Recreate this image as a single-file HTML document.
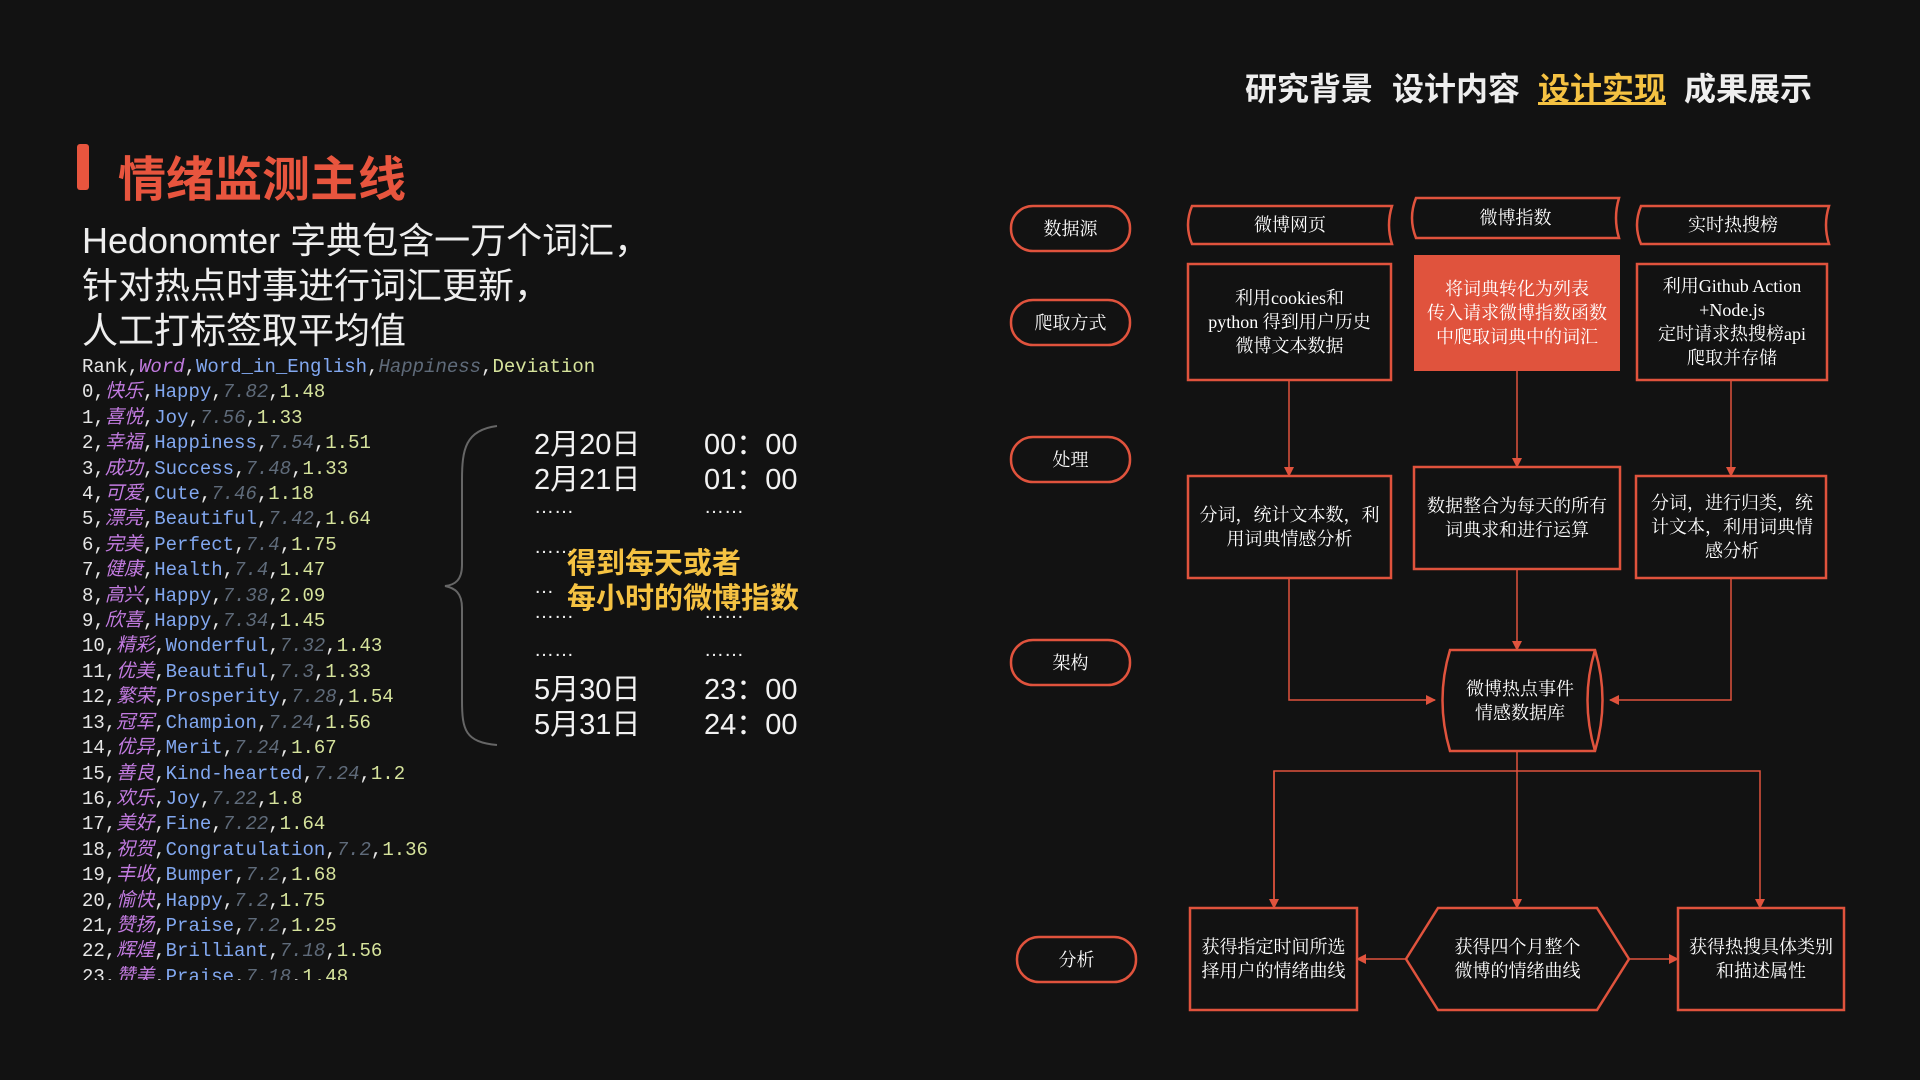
<!DOCTYPE html>
<html><head><meta charset="utf-8"><style>
*{margin:0;padding:0;box-sizing:border-box}
body{width:1920px;height:1080px;background:#121212;position:relative;overflow:hidden;font-family:"Liberation Sans","Noto Sans CJK SC",sans-serif;color:#fff}
.a{position:absolute;white-space:nowrap}
.nav{top:64px;font-size:32px;font-weight:bold;color:#eee}
.code{left:82px;top:355px;height:625px;overflow:hidden;font-family:"Liberation Mono","Noto Sans CJK SC",monospace;font-size:19px;line-height:25.4px;color:#e6e6e6}
.w{color:#c27be0;font-style:italic}.e{color:#82a8f0}.h{color:#5f6b7a;font-style:italic}.d{color:#d6e39c}
.dt{font-size:29px;color:#f2f2f2}
.bx{position:absolute;display:flex;align-items:center;justify-content:center;text-align:center;font-family:"Liberation Serif","Noto Serif CJK SC",serif;font-size:18px;line-height:24px;color:#fff}
</style></head><body>
<div class="a nav" style="left:1245px">研究背景</div>
<div class="a nav" style="left:1392px">设计内容</div>
<div class="a nav" style="left:1538px;color:#f5c242;text-decoration:underline">设计实现</div>
<div class="a nav" style="left:1684px">成果展示</div>

<div class="a" style="left:77px;top:144px;width:12px;height:46px;background:#e8553e;border-radius:3px"></div>
<div class="a" style="left:118px;top:140px;font-size:48px;font-weight:bold;color:#e8553e">情绪监测主线</div>
<div class="a" style="left:82px;top:218px;font-size:36px;line-height:45px;color:#eee">Hedonomter 字典包含一万个词汇，<br>针对热点时事进行词汇更新，<br>人工打标签取平均值</div>

<div class="a code">Rank,<span class="w">Word</span>,<span class="e">Word_in_English</span>,<span class="h">Happiness</span>,<span class="d">Deviation</span><br>
0,<span class="w">快乐</span>,<span class="e">Happy</span>,<span class="h">7.82</span>,<span class="d">1.48</span><br>
1,<span class="w">喜悦</span>,<span class="e">Joy</span>,<span class="h">7.56</span>,<span class="d">1.33</span><br>
2,<span class="w">幸福</span>,<span class="e">Happiness</span>,<span class="h">7.54</span>,<span class="d">1.51</span><br>
3,<span class="w">成功</span>,<span class="e">Success</span>,<span class="h">7.48</span>,<span class="d">1.33</span><br>
4,<span class="w">可爱</span>,<span class="e">Cute</span>,<span class="h">7.46</span>,<span class="d">1.18</span><br>
5,<span class="w">漂亮</span>,<span class="e">Beautiful</span>,<span class="h">7.42</span>,<span class="d">1.64</span><br>
6,<span class="w">完美</span>,<span class="e">Perfect</span>,<span class="h">7.4</span>,<span class="d">1.75</span><br>
7,<span class="w">健康</span>,<span class="e">Health</span>,<span class="h">7.4</span>,<span class="d">1.47</span><br>
8,<span class="w">高兴</span>,<span class="e">Happy</span>,<span class="h">7.38</span>,<span class="d">2.09</span><br>
9,<span class="w">欣喜</span>,<span class="e">Happy</span>,<span class="h">7.34</span>,<span class="d">1.45</span><br>
10,<span class="w">精彩</span>,<span class="e">Wonderful</span>,<span class="h">7.32</span>,<span class="d">1.43</span><br>
11,<span class="w">优美</span>,<span class="e">Beautiful</span>,<span class="h">7.3</span>,<span class="d">1.33</span><br>
12,<span class="w">繁荣</span>,<span class="e">Prosperity</span>,<span class="h">7.28</span>,<span class="d">1.54</span><br>
13,<span class="w">冠军</span>,<span class="e">Champion</span>,<span class="h">7.24</span>,<span class="d">1.56</span><br>
14,<span class="w">优异</span>,<span class="e">Merit</span>,<span class="h">7.24</span>,<span class="d">1.67</span><br>
15,<span class="w">善良</span>,<span class="e">Kind-hearted</span>,<span class="h">7.24</span>,<span class="d">1.2</span><br>
16,<span class="w">欢乐</span>,<span class="e">Joy</span>,<span class="h">7.22</span>,<span class="d">1.8</span><br>
17,<span class="w">美好</span>,<span class="e">Fine</span>,<span class="h">7.22</span>,<span class="d">1.64</span><br>
18,<span class="w">祝贺</span>,<span class="e">Congratulation</span>,<span class="h">7.2</span>,<span class="d">1.36</span><br>
19,<span class="w">丰收</span>,<span class="e">Bumper</span>,<span class="h">7.2</span>,<span class="d">1.68</span><br>
20,<span class="w">愉快</span>,<span class="e">Happy</span>,<span class="h">7.2</span>,<span class="d">1.75</span><br>
21,<span class="w">赞扬</span>,<span class="e">Praise</span>,<span class="h">7.2</span>,<span class="d">1.25</span><br>
22,<span class="w">辉煌</span>,<span class="e">Brilliant</span>,<span class="h">7.18</span>,<span class="d">1.56</span><br>
23,<span class="w">赞美</span>,<span class="e">Praise</span>,<span class="h">7.18</span>,<span class="d">1.48</span></div>

<svg class="a" style="left:0;top:0" width="1920" height="1080">
<path d="M497,426 C465,430 462,450 462,480 L462,565 C462,580 455,585 445,586 C455,588 462,593 462,608 L462,700 C462,730 465,742 497,745" fill="none" stroke="#666" stroke-width="2"/>
</svg>
<div class="a dt" style="left:534px;top:421px">2月20日</div><div class="a dt" style="left:704px;top:421px">00：00</div>
<div class="a dt" style="left:534px;top:456px">2月21日</div><div class="a dt" style="left:704px;top:456px">01：00</div>
<div class="a dt" style="left:534px;top:496px;font-size:20px">……</div><div class="a dt" style="left:704px;top:496px;font-size:20px">……</div>
<div class="a dt" style="left:534px;top:536px;font-size:20px">……</div>
<div class="a dt" style="left:534px;top:576px;font-size:20px">…</div>
<div class="a" style="left:567px;top:547px;font-size:29px;line-height:35px;font-weight:bold;color:#f5c242">得到每天或者<br>每小时的微博指数</div>
<div class="a dt" style="left:534px;top:601px;font-size:20px">……</div><div class="a dt" style="left:704px;top:601px;font-size:20px">……</div>
<div class="a dt" style="left:534px;top:639px;font-size:20px">……</div><div class="a dt" style="left:704px;top:639px;font-size:20px">……</div>
<div class="a dt" style="left:534px;top:666px">5月30日</div><div class="a dt" style="left:704px;top:666px">23：00</div>
<div class="a dt" style="left:534px;top:701px">5月31日</div><div class="a dt" style="left:704px;top:701px">24：00</div>

<svg class="a" style="left:0;top:0" width="1920" height="1080">
<defs><marker id="ar" markerWidth="10" markerHeight="10" refX="9" refY="5" orient="auto" markerUnits="userSpaceOnUse"><path d="M0,0 L10,5 L0,10z" fill="#e0533d"/></marker></defs>
<g fill="none" stroke="#e0533d" stroke-width="2.5">
<rect x="1011" y="206" width="119" height="45" rx="22"/>
<rect x="1011" y="300" width="119" height="45" rx="22"/>
<rect x="1011" y="437" width="119" height="45" rx="22"/>
<rect x="1011" y="640" width="119" height="45" rx="22"/>
<rect x="1017" y="937" width="119" height="45" rx="22"/>
<path d="M1192,206 H1392 Q1386,225 1392,244 H1192 Q1184,225 1192,206z"/>
<path d="M1416,198 H1619 Q1613,218 1619,238 H1416 Q1408,218 1416,198z"/>
<path d="M1641,206 H1829 Q1823,225 1829,244 H1641 Q1633,225 1641,206z"/>
<rect x="1188" y="264" width="203" height="116"/>
<rect x="1637" y="264" width="190" height="116"/>
<rect x="1188" y="476" width="203" height="102"/>
<rect x="1414" y="467" width="206" height="102"/>
<rect x="1636" y="476" width="190" height="102"/>
<rect x="1190" y="908" width="167" height="102"/>
<rect x="1678" y="908" width="166" height="102"/>
<path d="M1406,959 L1438,908 H1597 L1629,959 L1597,1010 H1438z"/>
<path d="M1450,650 H1595 Q1610,700 1595,751 H1450 Q1435,700 1450,650z"/>
<path d="M1595,650 Q1580,700 1595,751"/>
</g>
<rect x="1414" y="255" width="206" height="116" fill="#e0533d"/>
<g fill="none" stroke="#e0533d" stroke-width="1.5">
<path d="M1289,380 V476" marker-end="url(#ar)"/>
<path d="M1517,371 V467" marker-end="url(#ar)"/>
<path d="M1731,380 V476" marker-end="url(#ar)"/>
<path d="M1517,569 V650" marker-end="url(#ar)"/>
<path d="M1289,578 V700 H1435" marker-end="url(#ar)"/>
<path d="M1731,578 V700 H1610" marker-end="url(#ar)"/>
<path d="M1517,751 V908" marker-end="url(#ar)"/>
<path d="M1274,908 V771 H1760 V908" marker-end="url(#ar)"/>
<path d="M1274,771 V908" marker-end="url(#ar)"/>
<path d="M1406,959 H1357" marker-end="url(#ar)"/>
<path d="M1629,959 H1678" marker-end="url(#ar)"/>
</g>
</svg>
<div class="bx" style="left:1011px;top:206px;width:119px;height:45px">数据源</div>
<div class="bx" style="left:1011px;top:300px;width:119px;height:45px">爬取方式</div>
<div class="bx" style="left:1011px;top:437px;width:119px;height:45px">处理</div>
<div class="bx" style="left:1011px;top:640px;width:119px;height:45px">架构</div>
<div class="bx" style="left:1017px;top:937px;width:119px;height:45px">分析</div>
<div class="bx" style="left:1188px;top:206px;width:204px;height:38px">微博网页</div>
<div class="bx" style="left:1412px;top:198px;width:207px;height:40px">微博指数</div>
<div class="bx" style="left:1637px;top:206px;width:192px;height:38px">实时热搜榜</div>
<div class="bx" style="left:1190px;top:264px;width:199px;height:116px">利用cookies和<br>python 得到用户历史<br>微博文本数据</div>
<div class="bx" style="left:1414px;top:255px;width:206px;height:116px">将词典转化为列表<br>传入请求微博指数函数<br>中爬取词典中的词汇</div>
<div class="bx" style="left:1637px;top:264px;width:190px;height:116px">利用Github Action<br>+Node.js<br>定时请求热搜榜api<br>爬取并存储</div>
<div class="bx" style="left:1190px;top:476px;width:199px;height:102px">分词，统计文本数，利<br>用词典情感分析</div>
<div class="bx" style="left:1414px;top:467px;width:206px;height:102px">数据整合为每天的所有<br>词典求和进行运算</div>
<div class="bx" style="left:1640px;top:476px;width:184px;height:102px">分词，进行归类，统<br>计文本，利用词典情<br>感分析</div>
<div class="bx" style="left:1440px;top:650px;width:160px;height:101px">微博热点事件<br>情感数据库</div>
<div class="bx" style="left:1190px;top:908px;width:167px;height:102px">获得指定时间所选<br>择用户的情绪曲线</div>
<div class="bx" style="left:1406px;top:908px;width:223px;height:102px">获得四个月整个<br>微博的情绪曲线</div>
<div class="bx" style="left:1678px;top:908px;width:166px;height:102px">获得热搜具体类别<br>和描述属性</div>
</body></html>
